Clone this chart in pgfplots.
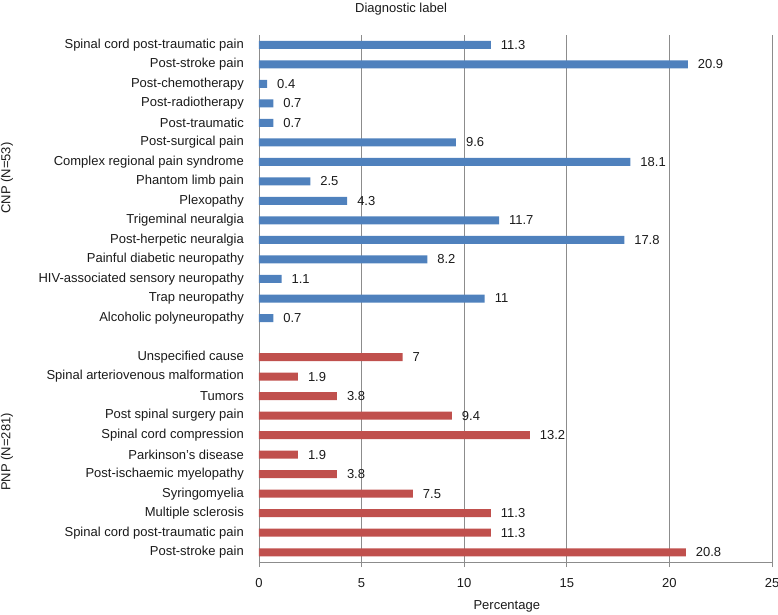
\documentclass[border=0pt]{standalone}
\usepackage{pgfplots}
\pgfplotsset{compat=1.18}
\usepackage{pgfplotstable}
\usepackage{fontspec}
\setmainfont{Liberation Sans}
\definecolor{cblue}{HTML}{4F81BD}
\definecolor{cred}{HTML}{C0504D}
\definecolor{axgray}{HTML}{8C8C8C}
\definecolor{txt}{HTML}{1A1A1A}

\pgfplotstableread{
y x lab
0 11.3 11.3
1 20.9 20.9
2 0.4 0.4
3 0.7 0.7
4 0.7 0.7
5 9.6 9.6
6 18.1 18.1
7 2.5 2.5
8 4.3 4.3
9 11.7 11.7
10 17.8 17.8
11 8.2 8.2
12 1.1 1.1
13 11 11
14 0.7 0.7
}\cnp

\pgfplotstableread{
y x lab
16 7 7
17 1.9 1.9
18 3.8 3.8
19 9.4 9.4
20 13.2 13.2
21 1.9 1.9
22 3.8 3.8
23 7.5 7.5
24 11.3 11.3
25 11.3 11.3
26 20.8 20.8
}\pnp

\begin{document}
\begin{tikzpicture}[font=\fontsize{13}{15}\selectfont, text=txt]
\useasboundingbox (-259pt,-52pt) rectangle (519pt,562pt);
\begin{axis}[
  at={(0pt,0pt)}, anchor=south west,
  scale only axis, width=513pt, height=527pt,
  xmin=0, xmax=25, ymin=-0.5, ymax=26.5, y dir=reverse,
  xtick={0,5,10,15,20,25},
  ytick={0,1,2,3,4,5,6,7,8,9,10,11,12,13,14,16,17,18,19,20,21,22,23,24,25,26},
  yticklabels={Spinal cord post-traumatic pain, Post-stroke pain, Post-chemotherapy, Post-radiotherapy, Post-traumatic, Post-surgical pain, Complex regional pain syndrome, Phantom limb pain, Plexopathy, Trigeminal neuralgia, Post-herpetic neuralgia, Painful diabetic neuropathy, HIV-associated sensory neuropathy, Trap neuropathy, Alcoholic polyneuropathy, Unspecified cause, Spinal arteriovenous malformation, Tumors, Post spinal surgery pain, Spinal cord compression, Parkinson’s disease, Post-ischaemic myelopathy, Syringomyelia, Multiple sclerosis, Spinal cord post-traumatic pain, Post-stroke pain},
  axis lines*=left,
  axis line style={axgray, line width=0.8pt},
  xmajorgrids, grid style={axgray, line width=0.8pt},
  xtick align=outside, major tick length=5pt,
  xtick style={axgray, line width=0.8pt},
  ytick style={draw=none},
  /pgf/number format/assume math mode=true,
  tick label style={font=\fontsize{13}{15}\selectfont, text=txt},
  yticklabel style={inner sep=0pt, xshift=-10pt},
  xticklabel style={inner sep=0pt, anchor=base, yshift=-20pt},
  title={Diagnostic label},
  title style={at={(0.277,1)}, anchor=base, yshift=17pt, inner sep=0pt, font=\fontsize{13}{15}\selectfont},
  xlabel={Percentage},
  xlabel style={at={(0.483,0)}, anchor=base, yshift=-47pt, inner sep=0pt, font=\fontsize{13}{15}\selectfont},
  xbar, bar width=8pt,
  nodes near coords, point meta=explicit symbolic,
  every node near coord/.append style={anchor=west, xshift=6.5pt, font=\fontsize{13}{15}\selectfont, text=txt},
  clip=false,
]
\addplot[draw=none, fill=cblue, bar shift=0pt] table[x=x, y=y, meta=lab] {\cnp};
\addplot[draw=none, fill=cred, bar shift=0pt] table[x=x, y=y, meta=lab] {\pnp};
\end{axis}
\node[rotate=90] at (-252pt,384pt) {CNP (N=53)};
\node[rotate=90] at (-252pt,110pt) {PNP (N=281)};
\end{tikzpicture}
\end{document}
